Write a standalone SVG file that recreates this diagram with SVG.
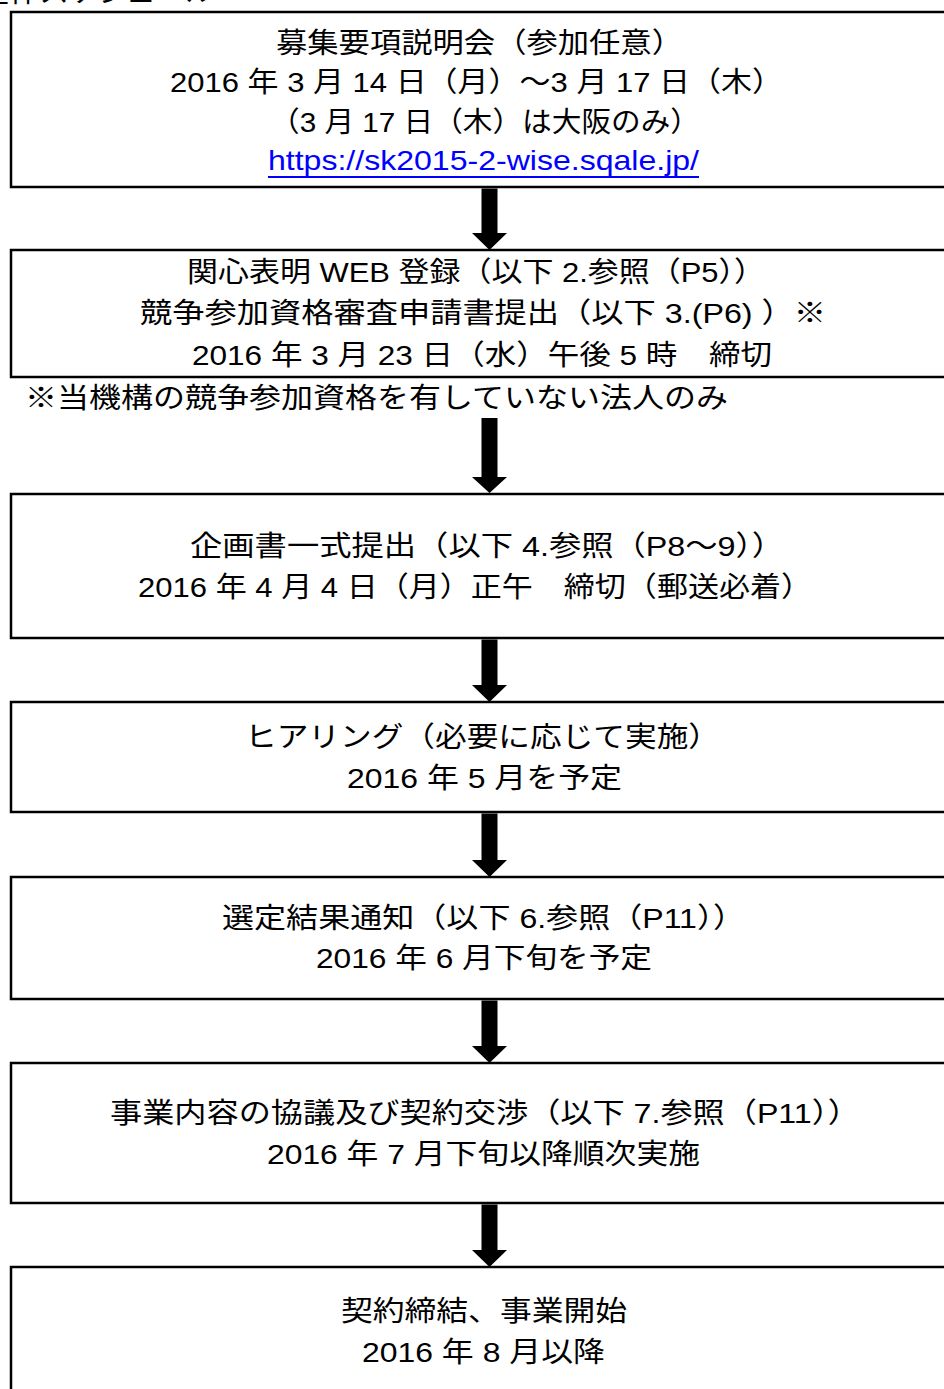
<svg xmlns="http://www.w3.org/2000/svg" width="944" height="1389" viewBox="0 0 944 1389">
<style>
.box{fill:#fff;stroke:#000;stroke-width:2.5}
text{font-family:"Liberation Sans","Noto Sans CJK JP",sans-serif;font-size:28px;fill:#000}
.c{text-anchor:start}
.link{fill:#0000ff}
.arr{fill:#000}
</style>
<rect width="944" height="1389" fill="#fff"/>
<text id="title" x="-20" y="2" textLength="235" lengthAdjust="spacingAndGlyphs">全体スケジュール</text>
<g id="node1">
<rect class="box" x="11" y="12" width="960" height="175"/>
<text x="276" y="53" textLength="407" lengthAdjust="spacingAndGlyphs">募集要項説明会（参加任意）</text>
<text x="170" y="92" textLength="613" lengthAdjust="spacingAndGlyphs">2016 年 3 月 14 日（月）～3 月 17 日（木）</text>
<text x="270" y="132" textLength="430" lengthAdjust="spacingAndGlyphs">（3 月 17 日（木）は大阪のみ）</text>
<text class="link" x="268" y="170" textLength="431" lengthAdjust="spacingAndGlyphs">https://sk2015-2-wise.sqale.jp/</text>
<rect class="link" x="268" y="176" width="431" height="2"/>
</g>
<g id="node2">
<rect class="box" x="11" y="250" width="960" height="127"/>
<text x="187" y="282" textLength="578" lengthAdjust="spacingAndGlyphs">関心表明 WEB 登録（以下 2.参照（P5））</text>
<text x="140" y="323" textLength="686" lengthAdjust="spacingAndGlyphs">競争参加資格審査申請書提出（以下 3.(P6) ）※</text>
<text x="192" y="365" textLength="580" lengthAdjust="spacingAndGlyphs">2016 年 3 月 23 日（水）午後 5 時　締切</text>
</g>
<text id="note" x="25" y="408" textLength="703" lengthAdjust="spacingAndGlyphs">※当機構の競争参加資格を有していない法人のみ</text>
<g id="node3">
<rect class="box" x="11" y="494" width="960" height="144"/>
<text x="190" y="556" textLength="594" lengthAdjust="spacingAndGlyphs">企画書一式提出（以下 4.参照（P8～9））</text>
<text x="138" y="597" textLength="674" lengthAdjust="spacingAndGlyphs">2016 年 4 月 4 日（月）正午　締切（郵送必着）</text>
</g>
<g id="node4">
<rect class="box" x="11" y="702" width="960" height="110"/>
<text x="245" y="747" textLength="475" lengthAdjust="spacingAndGlyphs">ヒアリング（必要に応じて実施）</text>
<text x="347" y="788" textLength="275" lengthAdjust="spacingAndGlyphs">2016 年 5 月を予定</text>
</g>
<g id="node5">
<rect class="box" x="11" y="877" width="960" height="122"/>
<text x="222" y="928" textLength="523" lengthAdjust="spacingAndGlyphs">選定結果通知（以下 6.参照（P11））</text>
<text x="316" y="968" textLength="336" lengthAdjust="spacingAndGlyphs">2016 年 6 月下旬を予定</text>
</g>
<g id="node6">
<rect class="box" x="11" y="1063" width="960" height="140"/>
<text x="110" y="1123" textLength="750" lengthAdjust="spacingAndGlyphs">事業内容の協議及び契約交渉（以下 7.参照（P11））</text>
<text x="267" y="1164" textLength="433" lengthAdjust="spacingAndGlyphs">2016 年 7 月下旬以降順次実施</text>
</g>
<g id="node7">
<rect class="box" x="11" y="1267" width="960" height="160"/>
<text x="341" y="1321" textLength="286" lengthAdjust="spacingAndGlyphs">契約締結、事業開始</text>
<text x="362" y="1362" textLength="243" lengthAdjust="spacingAndGlyphs">2016 年 8 月以降</text>
</g>
<g id="connectors">
<path class="arr" d="M481.5 188.5 H497.5 V233 H507 L489.5 250 L472 233 H481.5 Z"/>
<path class="arr" d="M481.5 418 H497.5 V477 H507 L489.5 493 L472 477 H481.5 Z"/>
<path class="arr" d="M481.5 639.5 H497.5 V685 H507 L489.5 702 L472 685 H481.5 Z"/>
<path class="arr" d="M481.5 813.5 H497.5 V860 H507 L489.5 877 L472 860 H481.5 Z"/>
<path class="arr" d="M481.5 1000.5 H497.5 V1046 H507 L489.5 1063 L472 1046 H481.5 Z"/>
<path class="arr" d="M481.5 1204.5 H497.5 V1250 H507 L489.5 1267 L472 1250 H481.5 Z"/>
</g>
</svg>
